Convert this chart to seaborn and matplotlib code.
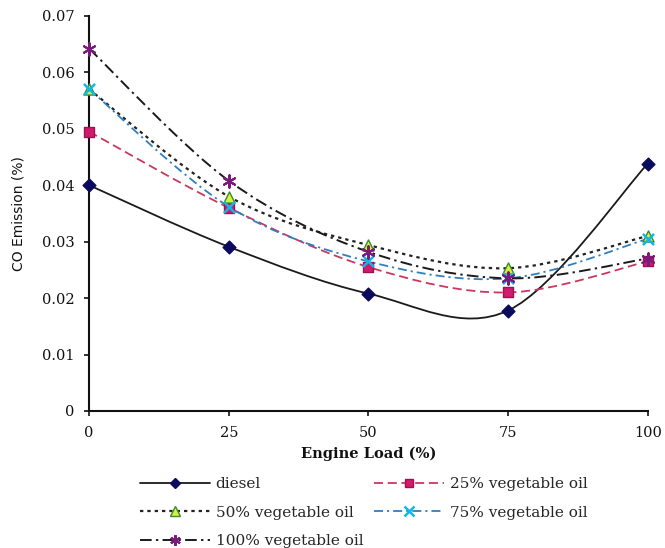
import matplotlib
matplotlib.use("Agg")
import matplotlib.pyplot as plt
from matplotlib.path import Path
from matplotlib.patches import PathPatch
from matplotlib.lines import Line2D
from matplotlib.ticker import FuncFormatter
import numpy as np
import pandas as pd
import seaborn as sns

# Engine load levels (%)
engine_load = [0, 25, 50, 75, 100]

# CO emission (%) for each fuel
diesel = [0.0400, 0.0291, 0.0208, 0.0178, 0.0438]
veg25 = [0.0495, 0.0360, 0.0255, 0.0210, 0.0265]
veg50 = [0.0570, 0.0380, 0.0294, 0.0253, 0.0310]
veg75 = [0.0570, 0.0362, 0.0265, 0.0235, 0.0305]
veg100 = [0.0642, 0.0408, 0.0282, 0.0235, 0.0270]

series_names = ["diesel", "25% vegetable oil", "50% vegetable oil",
                "75% vegetable oil", "100% vegetable oil"]
series_values = [diesel, veg25, veg50, veg75, veg100]

y_ticks = [0, 0.01, 0.02, 0.03, 0.04, 0.05, 0.06, 0.07]
x_ticks = [0, 25, 50, 75, 100]

df = pd.DataFrame({
    "load": engine_load * len(series_names),
    "co": [v for vals in series_values for v in vals],
    "fuel": [n for n in series_names for _ in engine_load],
})

styles = {
    "diesel": dict(color="#1a1a1a", ls="-", marker="D", mfc="#0b0b5e",
                   mec="#0b0b5e", ms=6.5, mew=1.0, lw=1.3),
    "25% vegetable oil": dict(color="#c8385f", ls=(0, (5, 2.6)), marker="s",
                              mfc="#d01a6e", mec="#a0104e", ms=6.5, mew=1.0,
                              lw=1.3),
    "50% vegetable oil": dict(color="#222222", ls=(0, (1.5, 1.8)), marker="^",
                              mfc="#d8f040", mec="#3a8a30", ms=8, mew=1.0,
                              lw=1.6),
    "75% vegetable oil": dict(color="#2f7fc0", ls=(0, (5, 2.2, 1.2, 2.2)),
                              marker="x", mfc="#10b8e8", mec="#10b8e8",
                              ms=8, mew=1.8, lw=1.3),
    "100% vegetable oil": dict(color="#1a1a1a", ls=(0, (6, 2.2, 1.2, 2.2)),
                               marker=(6, 2, 0), mfc="#7a1a7a",
                               mec="#7a1a7a", ms=9, mew=1.5, lw=1.4),
}

sns.set_theme(style="ticks")
plt.rcParams["font.family"] = ["DejaVu Serif"]

fig = plt.figure(figsize=(6.65, 5.48), dpi=100)
ax = fig.add_axes([0.134, 0.25, 0.84, 0.721])


def smooth_path(xs, ys):
    """Cubic Bezier path through the points (Catmull-Rom style smoothing)."""
    pts = np.column_stack([xs, ys]).astype(float)
    n = len(pts)
    verts = [pts[0]]
    codes = [Path.MOVETO]
    for i in range(n - 1):
        p_prev = pts[i - 1] if i > 0 else pts[i]
        p_next2 = pts[i + 2] if i + 2 < n else pts[i + 1]
        c1 = pts[i] + (pts[i + 1] - p_prev) / 6.0
        c2 = pts[i + 1] - (p_next2 - pts[i]) / 6.0
        verts += [c1, c2, pts[i + 1]]
        codes += [Path.CURVE4] * 3
    return Path(verts, codes)


for name in series_names:
    st = styles[name]
    sub = df[df["fuel"] == name]
    patch = PathPatch(smooth_path(sub["load"].values, sub["co"].values),
                      fill=False, edgecolor=st["color"], linestyle=st["ls"],
                      linewidth=st["lw"], transform=ax.transData, zorder=2,
                      capstyle="butt")
    ax.add_patch(patch)

# markers at the measured points
for name in series_names:
    st = styles[name]
    sub = df[df["fuel"] == name]
    sns.scatterplot(data=sub, x="load", y="co", ax=ax, marker=st["marker"],
                    s=st["ms"] ** 2, color=st["mfc"], edgecolor=st["mec"],
                    linewidth=st["mew"], zorder=4, clip_on=False, legend=False)

ax.set_xlim(0, 100)
ax.set_ylim(0, 0.07)
ax.set_xticks(x_ticks)
ax.set_yticks(y_ticks)
ax.yaxis.set_major_formatter(FuncFormatter(lambda v, p: "0" if v == 0 else f"{v:.2f}"))
for s in ["top", "right"]:
    ax.spines[s].set_visible(False)
for s in ["left", "bottom"]:
    ax.spines[s].set_linewidth(1.5)
    ax.spines[s].set_color("#111111")
ax.tick_params(axis="both", direction="out", length=3.5, width=1.2,
               colors="#111111", labelsize=10.5, pad=7)
ax.set_xlabel("Engine Load (%)", fontsize=10.5, fontweight="bold",
              labelpad=5, color="#111111")
ax.set_ylabel("CO Emission (%)", fontsize=10, family="DejaVu Sans",
              labelpad=12, color="#111111")

# legend laid out row by row in two columns
legend_order = ["diesel", "50% vegetable oil", "100% vegetable oil",
                "25% vegetable oil", "75% vegetable oil"]
handles = []
for name in legend_order:
    st = styles[name]
    handles.append(Line2D([], [], color=st["color"], linestyle=st["ls"],
                          linewidth=st["lw"], marker=st["marker"],
                          markerfacecolor=st["mfc"], markeredgecolor=st["mec"],
                          markersize=st["ms"] * 0.85, markeredgewidth=st["mew"]))

fig.legend(handles, legend_order, loc="upper left",
           bbox_to_anchor=(140 / 665, 1 - 477 / 548), ncol=2, frameon=False,
           fontsize=11, handlelength=4.6, handletextpad=0.35,
           columnspacing=0.7, labelspacing=0.95, borderpad=0,
           borderaxespad=0)

fig.savefig("out.png", dpi=100, facecolor="white")
